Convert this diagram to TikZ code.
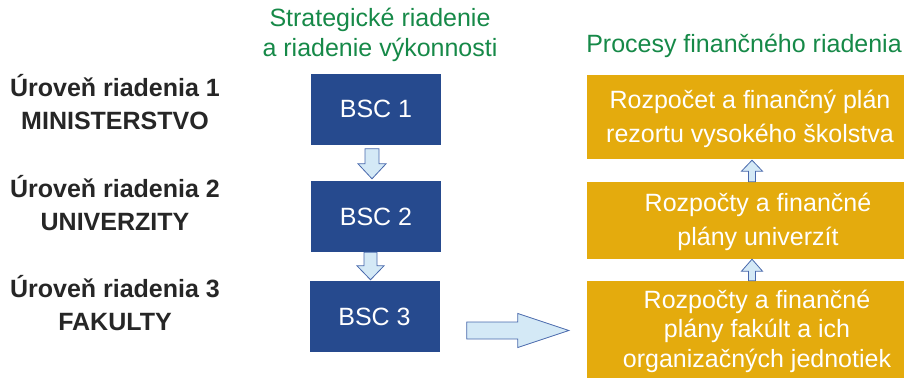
\documentclass[tikz,border=0pt]{standalone}
\usepackage{fontspec}
\setmainfont{Liberation Sans}
\usetikzlibrary{calc}

\definecolor{bscblue}{RGB}{38,74,142}
\definecolor{fingold}{RGB}{228,171,13}
\definecolor{arrfill}{RGB}{212,233,246}
\definecolor{arrline}{RGB}{72,104,172}
\definecolor{titgreen}{RGB}{22,137,72}

\tikzset{
  bscbox/.style={fill=bscblue, text=white, minimum width=130, minimum height=71,
    font=\fontsize{25}{30}\selectfont},
  finbox/.style={fill=fingold, minimum width=317},
  fintext/.style={text=white, align=center, inner sep=0, font=\fontsize{25}{33.5}\selectfont},
  lvltext/.style={align=center, inner sep=0, text=black!85, font=\fontsize{25}{33}\selectfont\bfseries},
  toptitle/.style={align=center, inner sep=0, text=titgreen, font=\fontsize{25}{30}\selectfont},
  blockarr/.style={fill=arrfill, draw=arrline, line width=0.8}
}

\begin{document}
\begin{tikzpicture}[x=1pt, y=-1pt]
\useasboundingbox (0,0) rectangle (904,378);

% titles
\node[toptitle] (strat) at (380,35) {Strategické riadenie\\a riadenie výkonnosti};
\node[toptitle, anchor=base] (proc) at (744,52) {Procesy finančného riadenia};

% levels
\node[lvltext] (lvl1) at (115,102) {Úroveň riadenia 1\\MINISTERSTVO};
\node[lvltext] (lvl2) at (115,203) {Úroveň riadenia 2\\UNIVERZITY};
\node[lvltext] (lvl3) at (115,303) {Úroveň riadenia 3\\FAKULTY};

% BSC column
\node[bscbox] (bsc1) at (376,109) {BSC 1};
\node[bscbox] (bsc2) at (376,216.5) {BSC 2};
\node[bscbox] (bsc3) at (374.5,316.5) {BSC 3};

% finance column
\node[finbox, minimum height=84] (fin1) at (745.5,117) {};
\node[finbox, minimum height=77] (fin2) at (745.5,220.5) {};
\node[finbox, minimum height=97] (fin3) at (745.5,329.5) {};
\node[fintext] (fin1t) at (750,119) {Rozpočet a finančný plán\\rezortu vysokého školstva};
\node[fintext] (fin2t) at (758,222) {Rozpočty a finančné\\plány univerzít};
\node[fintext, font=\fontsize{25}{29.5}\selectfont] (fin3t) at (757,331)
  {Rozpočty a finančné\\plány fakúlt a ich\\organizačných jednotiek};

% down arrows
\coordinate (d1s) at ($(bsc1.south)+(-4,4)$);
\coordinate (d1e) at ($(bsc2.north)+(-4,-2)$);
\draw[blockarr] ($(d1s)+(-7,0)$) -- ($(d1s)+(7,0)$) -- ($(d1e)+(7,-15)$) -- ($(d1e)+(14,-15)$)
  -- (d1e) -- ($(d1e)+(-14,-15)$) -- ($(d1e)+(-7,-15)$) -- cycle;
\coordinate (d2s) at ($(bsc2.south)+(-5.5,0)$);
\coordinate (d2e) at ($(bsc3.north)+(-4,-1)$);
\draw[blockarr] ($(d2s)+(-6.5,0)$) -- ($(d2s)+(6.5,0)$) -- ($(d2e)+(6.5,-14)$) -- ($(d2e)+(13.5,-14)$)
  -- (d2e) -- ($(d2e)+(-13.5,-14)$) -- ($(d2e)+(-6.5,-14)$) -- cycle;

% up arrows
\coordinate (u1s) at ($(fin2.north)+(6.5,0)$);
\coordinate (u1e) at ($(fin1.south)+(6.5,1)$);
\draw[blockarr] ($(u1s)+(-3.5,0)$) -- ($(u1s)+(3.5,0)$) -- ($(u1e)+(3.5,11)$) -- ($(u1e)+(10.5,11)$)
  -- (u1e) -- ($(u1e)+(-10.5,11)$) -- ($(u1e)+(-3.5,11)$) -- cycle;
\coordinate (u2s) at ($(fin3.north)+(6.5,0)$);
\coordinate (u2e) at ($(fin2.south)+(6.5,0)$);
\draw[blockarr] ($(u2s)+(-3.5,0)$) -- ($(u2s)+(3.5,0)$) -- ($(u2e)+(3.5,12)$) -- ($(u2e)+(10.5,12)$)
  -- (u2e) -- ($(u2e)+(-10.5,12)$) -- ($(u2e)+(-3.5,12)$) -- cycle;

% right arrow
\coordinate (ra) at ($(bsc3.east)+(27,14)$);
\coordinate (rb) at ($(fin3.west |- ra)+(-18,0)$);
\draw[blockarr] ($(ra)+(0,-8.5)$) -- ($(rb)+(-51,-8.5)$) -- ($(rb)+(-51,-17)$) -- (rb)
  -- ($(rb)+(-51,17)$) -- ($(rb)+(-51,8.5)$) -- ($(ra)+(0,8.5)$) -- cycle;

\end{tikzpicture}
\end{document}
